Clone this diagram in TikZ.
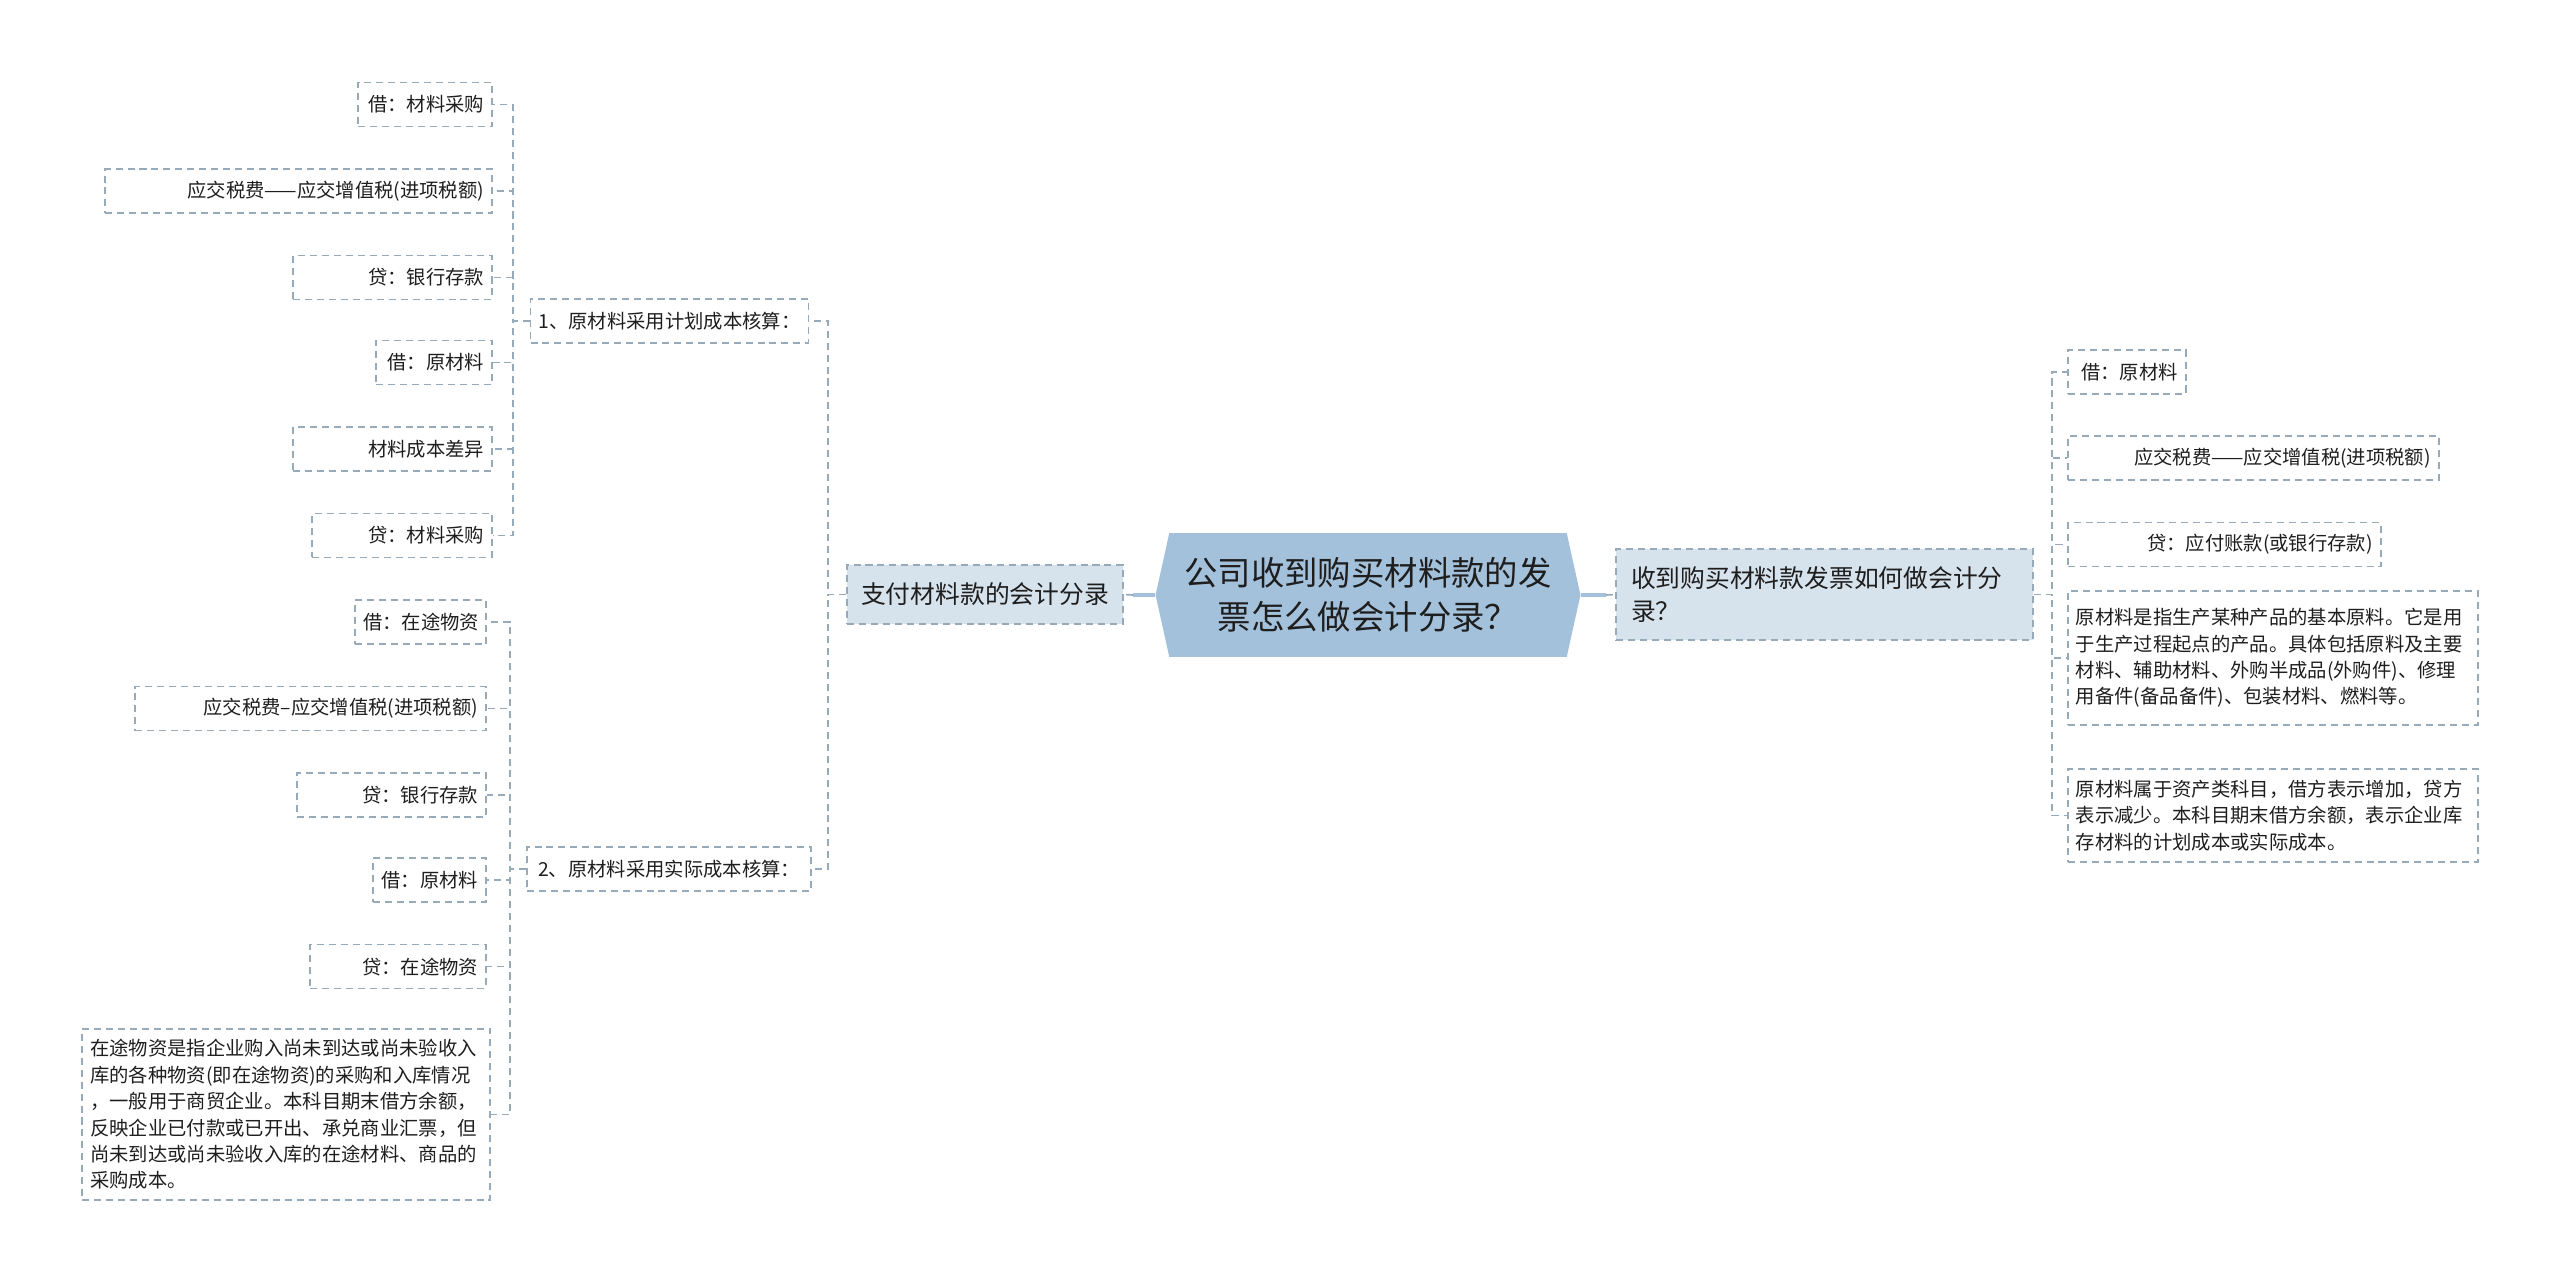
\documentclass[tikz,border=0pt]{standalone}
\usepackage{fontspec}
\setmainfont{Noto Sans CJK SC}
\usetikzlibrary{shapes.symbols,positioning}
\definecolor{hexblue}{RGB}{164,193,219}
\definecolor{lvlfill}{RGB}{214,226,236}
\definecolor{dashclr}{RGB}{150,170,186}
\definecolor{inkclr}{RGB}{30,30,30}

\begin{document}
\begin{tikzpicture}[
	x=0.02cm, y=-0.02cm,
	link/.style = {draw=dashclr, line width=0.95pt, dash pattern=on 4pt off 2.8pt},
	box/.style = {link, text=inkclr, inner xsep=0.16cm, inner ysep=0pt, minimum height=0.88cm, font=\fontsize{11}{15}\selectfont},
	leaf/.style = {box, text width=#1, align=right},
	note/.style = {box, text width=#1, align=left},
	sub/.style = {box, align=center},
	branch/.style = {link, fill=lvlfill, text=inkclr, font=\fontsize{14.1}{18.5}\selectfont},
	centre/.style = {shape=signal, signal to=west and east, signal pointer angle=155, fill=hexblue, text=inkclr, align=center, font=\fontsize{19}{25}\selectfont, minimum width=8.5cm, minimum height=2.48cm, inner sep=0pt},
	rootline/.style = {draw=hexblue, line width=2.3pt}
]
	\useasboundingbox (0,0) rectangle (2560,1284);

	\node[centre] (c) at (1368,595) {公司收到购买材料款的发\\票怎么做会计分录？};
	\node[branch, minimum width=5.52cm, minimum height=1.18cm] (p) at (985,594.5) {支付材料款的会计分录};
	\node[branch, text width=7.74cm, align=left, inner xsep=0.3cm, minimum height=1.82cm] (q) at (1824.5,594.5) {收到购买材料款发票如何做会计分\\录？};

	\node[sub, minimum width=5.54cm] (m1) at (669.5,321) {1、原材料采用计划成本核算：};
	\node[sub, minimum width=5.68cm] (m2) at (669,869) {2、原材料采用实际成本核算：};

	\node[leaf=2.36cm, anchor=east] (l1) at (493,104.5) {借：材料采购};
	\node[leaf=7.42cm, anchor=east] (l2) at (493,191) {应交税费——应交增值税(进项税额)};
	\node[leaf=3.66cm, anchor=east] (l3) at (493,277.6) {贷：银行存款};
	\node[leaf=2.0cm, anchor=east] (l4) at (493,362.5) {借：原材料};
	\node[leaf=3.66cm, anchor=east] (l5) at (493,449) {材料成本差异};
	\node[leaf=3.28cm, anchor=east] (l6) at (493,535.5) {贷：材料采购};
	\node[leaf=2.3cm, anchor=east] (l7) at (487,622) {借：在途物资};
	\node[leaf=6.7cm, anchor=east] (l8) at (487,708.6) {应交税费–应交增值税(进项税额)};
	\node[leaf=3.46cm, anchor=east] (l9) at (487,795) {贷：银行存款};
	\node[leaf=1.94cm, anchor=east] (l10) at (487,880) {借：原材料};
	\node[leaf=3.2cm, anchor=east] (l11) at (487,966.6) {贷：在途物资};
	\node[note=7.84cm, anchor=east, minimum height=3.42cm] (l12) at (491,1114.5) {在途物资是指企业购入尚未到达或尚未验收入\\库的各种物资(即在途物资)的采购和入库情况\\，一般用于商贸企业。本科目期末借方余额，\\反映企业已付款或已开出、承兑商业汇票，但\\尚未到达或尚未验收入库的在途材料、商品的\\采购成本。};

	\node[leaf=2.04cm, anchor=west] (r1) at (2067,372) {借：原材料};
	\node[leaf=7.1cm, anchor=west] (r2) at (2067,458) {应交税费——应交增值税(进项税额)};
	\node[leaf=5.94cm, anchor=west] (r3) at (2067,544.5) {贷：应付账款(或银行存款)};
	\node[note=7.88cm, anchor=west, minimum height=2.68cm] (r4) at (2067,658) {原材料是指生产某种产品的基本原料。它是用\\于生产过程起点的产品。具体包括原料及主要\\材料、辅助材料、外购半成品(外购件)、修理\\用备件(备品备件)、包装材料、燃料等。};
	\node[note=7.88cm, anchor=west, minimum height=1.86cm] (r5) at (2067,815.5) {原材料属于资产类科目，借方表示增加，贷方\\表示减少。本科目期末借方余额，表示企业库\\存材料的计划成本或实际成本。};

	\draw[rootline] (c.west) -- ++(-22,0) coordinate (cl);
	\draw[link] (cl) -- (p.east);
	\draw[rootline] (c.east) -- ++(25,0) coordinate (cr);
	\draw[link] (cr) -- (q.west);

	\draw[link] (p.west) -- ++(-18,0) |- (m1.east);
	\draw[link] (p.west) -- ++(-18,0) |- (m2.east);

	\draw[link] (m1.west) -- ++(-17,0) |- (l1.east);
	\draw[link] (m1.west) -- ++(-17,0) |- (l2.east);
	\draw[link] (m1.west) -- ++(-17,0) |- (l3.east);
	\draw[link] (m1.west) -- ++(-17,0) |- (l4.east);
	\draw[link] (m1.west) -- ++(-17,0) |- (l5.east);
	\draw[link] (m1.west) -- ++(-17,0) |- (l6.east);

	\draw[link] (m2.west) -- ++(-16,0) |- (l7.east);
	\draw[link] (m2.west) -- ++(-16,0) |- (l8.east);
	\draw[link] (m2.west) -- ++(-16,0) |- (l9.east);
	\draw[link] (m2.west) -- ++(-16,0) |- (l10.east);
	\draw[link] (m2.west) -- ++(-16,0) |- (l11.east);
	\draw[link] (m2.west) -- ++(-16,0) |- (l12.east);

	\draw[link] (q.east) -- ++(18,0) |- (r1.west);
	\draw[link] (q.east) -- ++(18,0) |- (r2.west);
	\draw[link] (q.east) -- ++(18,0) |- (r3.west);
	\draw[link] (q.east) -- ++(18,0) |- (r4.west);
	\draw[link] (q.east) -- ++(18,0) |- (r5.west);
\end{tikzpicture}
\end{document}
